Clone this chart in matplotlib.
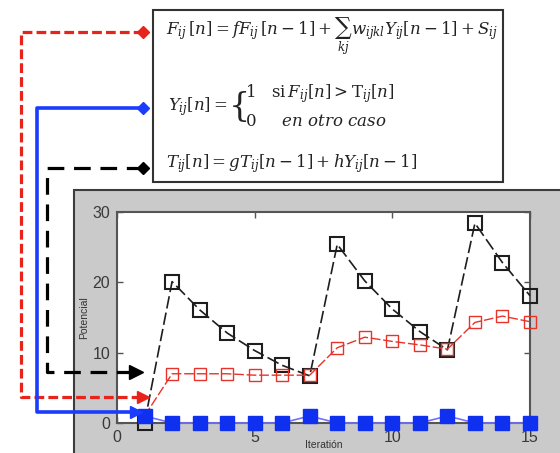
import numpy as np
import matplotlib
matplotlib.use("Agg")
from matplotlib import pyplot as plt
from matplotlib.patches import Rectangle

plt.rcParams['font.family'] = ['Liberation Sans', 'DejaVu Sans']
plt.rcParams['mathtext.fontset'] = 'dejavuserif'
plt.rcParams['lines.scale_dashes'] = False

# Data
iteration = np.arange(1, 16)
potencial_F = [1.0, 7.0, 7.0, 7.0, 6.8, 6.8, 6.8, 10.7, 12.2, 11.6, 11.1, 10.5, 14.3, 15.2, 14.4]
salida_Y = [1, 0, 0, 0, 0, 0, 1, 0, 0, 0, 0, 1, 0, 0, 0]
umbral_T = [0.0, 20.1, 16.1, 12.8, 10.3, 8.2, 6.7, 25.4, 20.2, 16.2, 13.0, 10.4, 28.4, 22.8, 18.1]
x_ticks = [0, 5, 10, 15]
y_ticks = [0, 10, 20, 30]

W, H = 560, 453
fig = plt.figure(figsize=(W / 100, H / 100), dpi=100)

# Background layer (pixel coordinates): gray panel and equation box
bg = fig.add_axes([0, 0, 1, 1], zorder=0)
bg.set_xlim(0, W)
bg.set_ylim(H, 0)
bg.axis('off')
bg.add_patch(Rectangle((74, 190), 520, 300, facecolor='#cacaca',
                       edgecolor='#3c3c3c', lw=1.5))
bg.add_patch(Rectangle((153, 10), 350, 172, facecolor='white',
                       edgecolor='#333333', lw=1.5))

eq_color = '#222222'
fs = 12
bg.text(166, 36, r'$F_{ij}\,[n] = fF_{ij}\,[n-1] + \sum_{kj} w_{ijkl}Y_{ij}[n-1] + S_{ij}$',
        fontsize=fs, color=eq_color, va='center', ha='left')
bg.text(168, 107, r'$Y_{ij}[n] = $', fontsize=fs, color=eq_color,
        va='center', ha='left')
bg.text(228, 106, r'$\{$', fontsize=24, color=eq_color, va='center', ha='left')
bg.text(245, 94, r'$1\ \ \ \mathrm{si}\,F_{ij}[n] > \mathrm{T}_{ij}[n]$',
        fontsize=fs, color=eq_color, va='center', ha='left')
bg.text(245, 121, r'$0\ \ \ \ \ \mathit{en\ otro\ caso}$',
        fontsize=fs, color=eq_color, va='center', ha='left')
bg.text(166, 164, r'$T_{ij}[n] = gT_{ij}[n-1] + hY_{ij}[n-1]$',
        fontsize=fs, color=eq_color, va='center', ha='left')

# Main plot
left, right, top, bottom = 117, 530, 212, 423
ax = fig.add_axes([left / W, 1 - bottom / H, (right - left) / W, (bottom - top) / H],
                  zorder=1)
ax.set_facecolor('white')
ax.plot(iteration, umbral_T, color='#1e1e1e', lw=1.2, dashes=(9, 3),
        marker='s', ms=9.5, mfc='none', mec='#1e1e1e', mew=1.5, clip_on=False, zorder=3)
ax.plot(iteration, potencial_F, color='#e8332a', lw=1.0, dashes=(7, 2),
        marker='s', ms=8, mfc='none', mec='#e8332a', mew=1.0, clip_on=False, zorder=4)
ax.plot(iteration, salida_Y, color='#7070ff', lw=1.2,
        marker='s', ms=9.5, mfc='#1030f0', mec='#1030f0', clip_on=False, zorder=5)
ax.set_xlim(0, 15)
ax.set_ylim(0, 30)
ax.set_xticks(x_ticks)
ax.set_yticks(y_ticks)
ax.tick_params(direction='in', length=4, width=1, top=True, right=True,
               labelsize=11.5, labelcolor='#3a3a3a', color='#555555', pad=5)
for s in ax.spines.values():
    s.set_color('#555555')
    s.set_linewidth(1.5)
ax.set_xlabel('Iteratión', fontsize=7.5, color='#333333')
ax.xaxis.set_label_coords(0.5, -0.08)
ax.set_ylabel('Potencial', fontsize=7.5, color='#333333', labelpad=2)

# Overlay layer with the connector arrows
ov = fig.add_axes([0, 0, 1, 1], zorder=5)
ov.set_xlim(0, W)
ov.set_ylim(H, 0)
ov.axis('off')
ov.patch.set_alpha(0)

ov.plot([143, 21, 21, 140], [32, 32, 397, 397], color='#e8231a', lw=2.3,
        dashes=(7, 3), solid_capstyle='butt')
ov.plot([143], [32], marker='D', ms=6, color='#e8231a')
ov.plot([143], [397], marker='>', ms=9, color='#e8231a')

ov.plot([143, 37, 37, 136], [108, 108, 412, 412], color='#1a3cff', lw=2.6)
ov.plot([143], [108], marker='D', ms=6, color='#1a3cff')
ov.plot([136], [412], marker='>', ms=9, color='#1a3cff')

ov.plot([143, 47, 47, 134], [168, 168, 372, 372], color='black', lw=2.3,
        dashes=(12, 7), solid_capstyle='butt')
ov.plot([143], [168], marker='D', ms=6, color='black')
ov.plot([136], [372], marker='>', ms=10, color='black')

fig.savefig('out.png', dpi=100)
